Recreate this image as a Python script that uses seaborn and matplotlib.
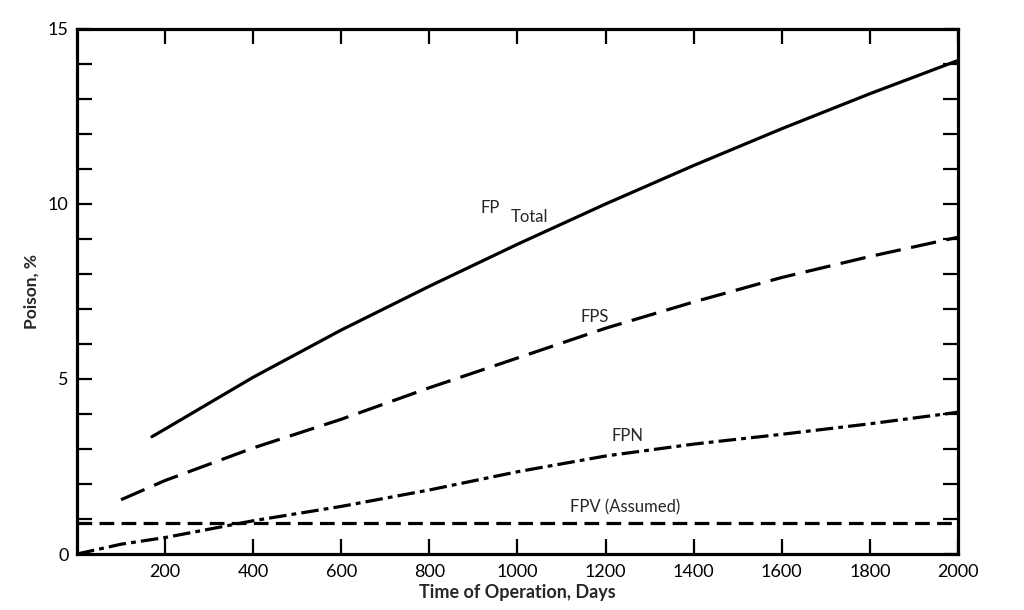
import matplotlib
matplotlib.use("Agg")
import matplotlib.pyplot as plt
import seaborn as sns

# values
days_total = [170, 200, 400, 600, 800, 1000, 1200, 1400, 1600, 1800, 2000]
fp_total = [3.35, 3.57, 5.05, 6.4, 7.65, 8.85, 10.0, 11.1, 12.15, 13.15, 14.1]

days_fps = [100, 200, 400, 600, 800, 1000, 1200, 1400, 1600, 1800, 2000]
fps = [1.55, 2.1, 3.03, 3.85, 4.75, 5.6, 6.45, 7.2, 7.9, 8.5, 9.05]

days_fpn = [0, 100, 200, 400, 600, 800, 1000, 1200, 1400, 1600, 1800, 2000]
fpn = [0.0, 0.28, 0.47, 0.95, 1.36, 1.83, 2.35, 2.8, 3.14, 3.42, 3.72, 4.05]

days_fpv = [0, 2000]
fpv = [0.9, 0.9]

x_ticks = [200, 400, 600, 800, 1000, 1200, 1400, 1600, 1800, 2000]
y_ticks = list(range(0, 16))
y_labels = ["0", "", "", "", "", "5", "", "", "", "", "10", "", "", "", "", "15"]

sns.set_style("white")
plt.rcParams['font.family'] = ['Lato', 'DejaVu Sans']

fig = plt.figure(figsize=(10.24, 6.1), dpi=100)
ax = fig.add_axes([0.0752, 0.0918, 0.8603, 0.8607])

lw = 2.3
sns.lineplot(x=days_total, y=fp_total, color="black", lw=lw, ax=ax)
sns.lineplot(x=days_fps, y=fps, color="black", lw=lw, ls=(0, (8, 3.3)), ax=ax)
sns.lineplot(x=days_fpn, y=fpn, color="black", lw=lw, ls=(0, (5.5, 1.6, 1.5, 1.6)), ax=ax)
sns.lineplot(x=days_fpv, y=fpv, color="black", lw=lw, ls=(0, (4.6, 2.3)), ax=ax)

ax.set_xlim(0, 2000)
ax.set_ylim(0, 15)

ax.set_xticks(x_ticks)
ax.set_xticklabels([str(t) for t in x_ticks], fontsize=13)
ax.set_yticks(y_ticks)
ax.set_yticklabels(y_labels, fontsize=13)
ax.tick_params(axis="both", direction="in", length=11, width=1.6, colors="black",
               top=True, right=True, bottom=True, left=True)
ax.tick_params(axis="x", pad=7)
ax.tick_params(axis="y", pad=6)

for s in ax.spines.values():
    s.set_visible(True)
    s.set_color("black")
    s.set_linewidth(2.3)

ax.set_xlabel("Time of Operation, Days", fontsize=13, fontweight="bold", labelpad=3)
ax.set_ylabel("Poison, %", fontsize=12.5, fontweight="bold")
ax.yaxis.set_label_coords(-0.042, 0.5)

# curve labels
ax.text(937, 9.88, "FP", fontsize=12, ha="center", va="center")
ax.text(1028, 9.62, "Total", fontsize=12, ha="center", va="center")
ax.text(1176, 6.78, "FPS", fontsize=12, ha="center", va="center")
ax.text(1249, 3.36, "FPN", fontsize=12, ha="center", va="center")
ax.text(1244, 1.33, "FPV (Assumed)", fontsize=12, ha="center", va="center")

fig.savefig("out.png", dpi=100, facecolor="white")
